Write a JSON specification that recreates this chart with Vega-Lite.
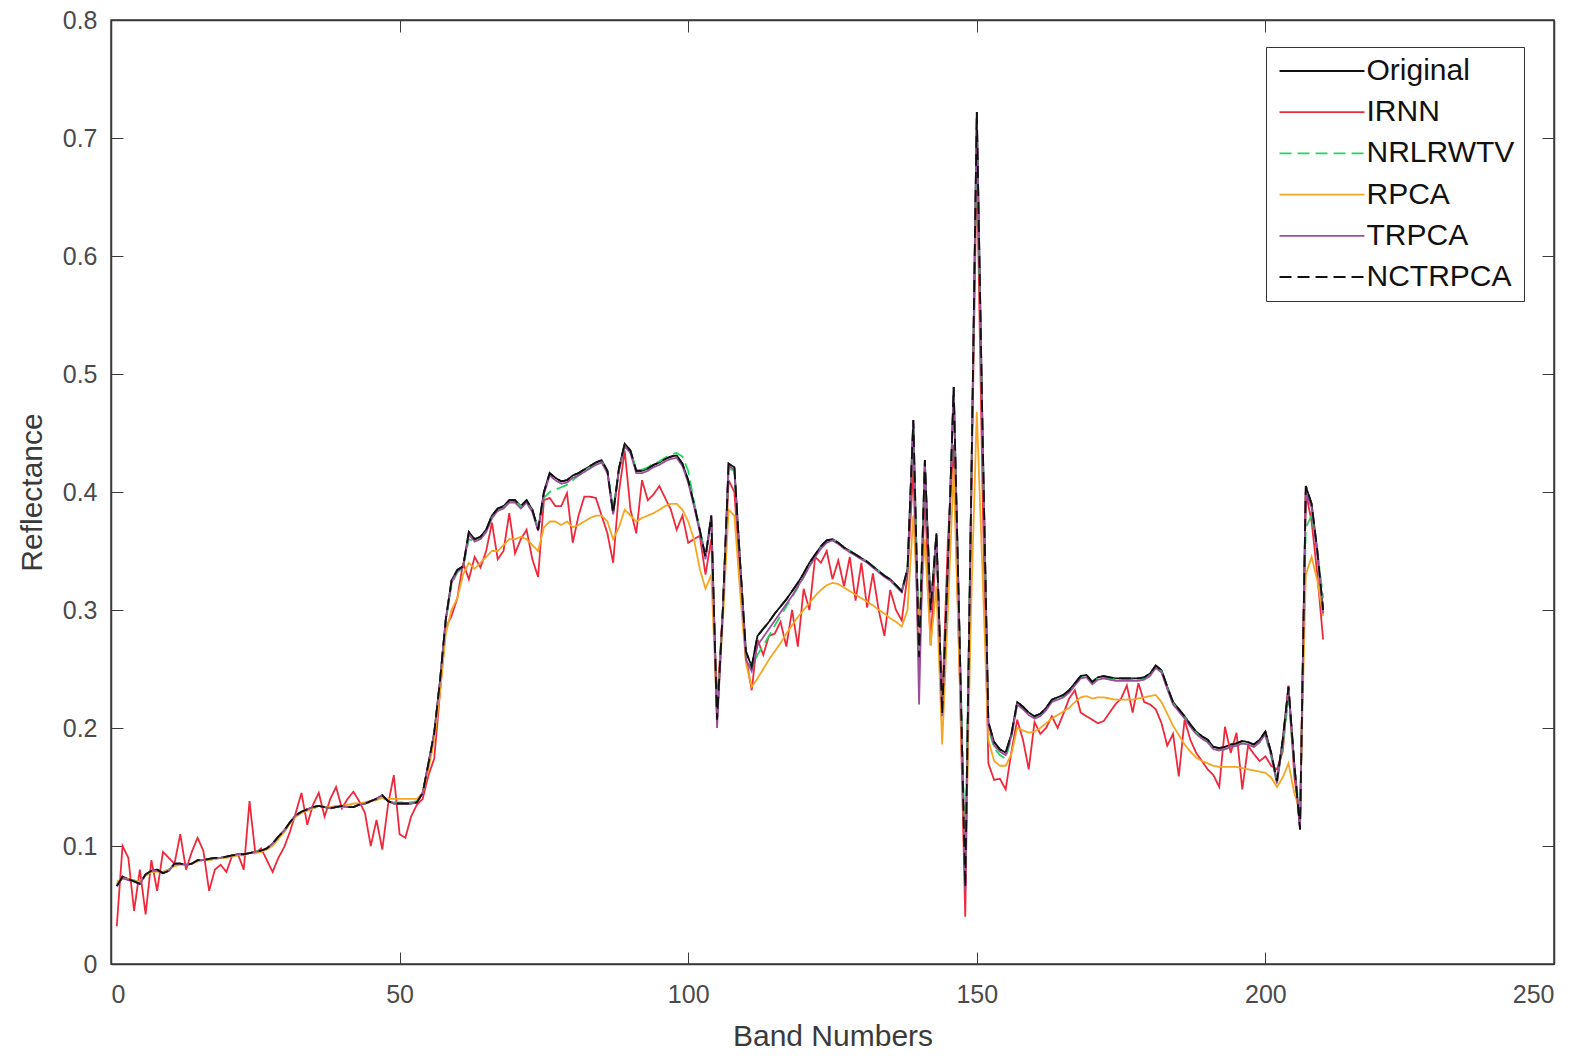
{
"$schema":"https://vega.github.io/schema/vega-lite/v6.json",
"width":1443,"height":944,
"autosize":{"type":"none"},
"padding":{"left":111,"top":20,"right":34,"bottom":100},
"background":"white",
"config":{"view":{"stroke":"#3a3a3a","strokeWidth":1.5},"font":"Liberation Sans"},
"datasets":{"d":[
{"b":1,"s":"Original","v":0.066},{"b":2,"s":"Original","v":0.074},{"b":3,"s":"Original","v":0.072},{"b":4,"s":"Original","v":0.070},{"b":5,"s":"Original","v":0.068},{"b":6,"s":"Original","v":0.076},{"b":7,"s":"Original","v":0.079},{"b":8,"s":"Original","v":0.080},{"b":9,"s":"Original","v":0.077},{"b":10,"s":"Original","v":0.079},
{"b":11,"s":"Original","v":0.085},{"b":12,"s":"Original","v":0.085},{"b":13,"s":"Original","v":0.084},{"b":14,"s":"Original","v":0.085},{"b":15,"s":"Original","v":0.088},{"b":16,"s":"Original","v":0.088},{"b":17,"s":"Original","v":0.089},{"b":18,"s":"Original","v":0.090},{"b":19,"s":"Original","v":0.090},{"b":20,"s":"Original","v":0.091},
{"b":21,"s":"Original","v":0.092},{"b":22,"s":"Original","v":0.093},{"b":23,"s":"Original","v":0.093},{"b":24,"s":"Original","v":0.094},{"b":25,"s":"Original","v":0.095},{"b":26,"s":"Original","v":0.096},{"b":27,"s":"Original","v":0.098},{"b":28,"s":"Original","v":0.102},{"b":29,"s":"Original","v":0.108},{"b":30,"s":"Original","v":0.113},
{"b":31,"s":"Original","v":0.120},{"b":32,"s":"Original","v":0.126},{"b":33,"s":"Original","v":0.129},{"b":34,"s":"Original","v":0.131},{"b":35,"s":"Original","v":0.133},{"b":36,"s":"Original","v":0.134},{"b":37,"s":"Original","v":0.133},{"b":38,"s":"Original","v":0.132},{"b":39,"s":"Original","v":0.133},{"b":40,"s":"Original","v":0.134},
{"b":41,"s":"Original","v":0.133},{"b":42,"s":"Original","v":0.133},{"b":43,"s":"Original","v":0.135},{"b":44,"s":"Original","v":0.136},{"b":45,"s":"Original","v":0.138},{"b":46,"s":"Original","v":0.140},{"b":47,"s":"Original","v":0.143},{"b":48,"s":"Original","v":0.138},{"b":49,"s":"Original","v":0.136},{"b":50,"s":"Original","v":0.136},
{"b":51,"s":"Original","v":0.136},{"b":52,"s":"Original","v":0.136},{"b":53,"s":"Original","v":0.137},{"b":54,"s":"Original","v":0.145},{"b":55,"s":"Original","v":0.170},{"b":56,"s":"Original","v":0.196},{"b":57,"s":"Original","v":0.240},{"b":58,"s":"Original","v":0.292},{"b":59,"s":"Original","v":0.325},{"b":60,"s":"Original","v":0.334},
{"b":61,"s":"Original","v":0.337},{"b":62,"s":"Original","v":0.366},{"b":63,"s":"Original","v":0.360},{"b":64,"s":"Original","v":0.362},{"b":65,"s":"Original","v":0.368},{"b":66,"s":"Original","v":0.380},{"b":67,"s":"Original","v":0.386},{"b":68,"s":"Original","v":0.388},{"b":69,"s":"Original","v":0.393},{"b":70,"s":"Original","v":0.393},
{"b":71,"s":"Original","v":0.388},{"b":72,"s":"Original","v":0.393},{"b":73,"s":"Original","v":0.385},{"b":74,"s":"Original","v":0.368},{"b":75,"s":"Original","v":0.400},{"b":76,"s":"Original","v":0.416},{"b":77,"s":"Original","v":0.412},{"b":78,"s":"Original","v":0.409},{"b":79,"s":"Original","v":0.410},{"b":80,"s":"Original","v":0.414},
{"b":81,"s":"Original","v":0.416},{"b":82,"s":"Original","v":0.419},{"b":83,"s":"Original","v":0.422},{"b":84,"s":"Original","v":0.425},{"b":85,"s":"Original","v":0.427},{"b":86,"s":"Original","v":0.418},{"b":87,"s":"Original","v":0.382},{"b":88,"s":"Original","v":0.420},{"b":89,"s":"Original","v":0.441},{"b":90,"s":"Original","v":0.435},
{"b":91,"s":"Original","v":0.418},{"b":92,"s":"Original","v":0.418},{"b":93,"s":"Original","v":0.420},{"b":94,"s":"Original","v":0.423},{"b":95,"s":"Original","v":0.425},{"b":96,"s":"Original","v":0.428},{"b":97,"s":"Original","v":0.430},{"b":98,"s":"Original","v":0.431},{"b":99,"s":"Original","v":0.424},{"b":100,"s":"Original","v":0.410},
{"b":101,"s":"Original","v":0.390},{"b":102,"s":"Original","v":0.368},{"b":103,"s":"Original","v":0.345},{"b":104,"s":"Original","v":0.380},{"b":105,"s":"Original","v":0.207},{"b":106,"s":"Original","v":0.300},{"b":107,"s":"Original","v":0.424},{"b":108,"s":"Original","v":0.421},{"b":109,"s":"Original","v":0.340},{"b":110,"s":"Original","v":0.265},
{"b":111,"s":"Original","v":0.252},{"b":112,"s":"Original","v":0.278},{"b":113,"s":"Original","v":0.284},{"b":114,"s":"Original","v":0.290},{"b":115,"s":"Original","v":0.297},{"b":116,"s":"Original","v":0.303},{"b":117,"s":"Original","v":0.309},{"b":118,"s":"Original","v":0.316},{"b":119,"s":"Original","v":0.323},{"b":120,"s":"Original","v":0.331},
{"b":121,"s":"Original","v":0.340},{"b":122,"s":"Original","v":0.347},{"b":123,"s":"Original","v":0.354},{"b":124,"s":"Original","v":0.359},{"b":125,"s":"Original","v":0.360},{"b":126,"s":"Original","v":0.357},{"b":127,"s":"Original","v":0.353},{"b":128,"s":"Original","v":0.350},{"b":129,"s":"Original","v":0.347},{"b":130,"s":"Original","v":0.344},
{"b":131,"s":"Original","v":0.341},{"b":132,"s":"Original","v":0.337},{"b":133,"s":"Original","v":0.333},{"b":134,"s":"Original","v":0.329},{"b":135,"s":"Original","v":0.326},{"b":136,"s":"Original","v":0.321},{"b":137,"s":"Original","v":0.316},{"b":138,"s":"Original","v":0.335},{"b":139,"s":"Original","v":0.461},{"b":140,"s":"Original","v":0.260},
{"b":141,"s":"Original","v":0.427},{"b":142,"s":"Original","v":0.300},{"b":143,"s":"Original","v":0.365},{"b":144,"s":"Original","v":0.212},{"b":145,"s":"Original","v":0.340},{"b":146,"s":"Original","v":0.489},{"b":147,"s":"Original","v":0.280},{"b":148,"s":"Original","v":0.065},{"b":149,"s":"Original","v":0.390},{"b":150,"s":"Original","v":0.722},
{"b":151,"s":"Original","v":0.450},{"b":152,"s":"Original","v":0.205},{"b":153,"s":"Original","v":0.188},{"b":154,"s":"Original","v":0.182},{"b":155,"s":"Original","v":0.179},{"b":156,"s":"Original","v":0.195},{"b":157,"s":"Original","v":0.222},{"b":158,"s":"Original","v":0.218},{"b":159,"s":"Original","v":0.213},{"b":160,"s":"Original","v":0.210},
{"b":161,"s":"Original","v":0.212},{"b":162,"s":"Original","v":0.217},{"b":163,"s":"Original","v":0.224},{"b":164,"s":"Original","v":0.226},{"b":165,"s":"Original","v":0.228},{"b":166,"s":"Original","v":0.232},{"b":167,"s":"Original","v":0.238},{"b":168,"s":"Original","v":0.244},{"b":169,"s":"Original","v":0.245},{"b":170,"s":"Original","v":0.239},
{"b":171,"s":"Original","v":0.243},{"b":172,"s":"Original","v":0.244},{"b":173,"s":"Original","v":0.243},{"b":174,"s":"Original","v":0.242},{"b":175,"s":"Original","v":0.242},{"b":176,"s":"Original","v":0.242},{"b":177,"s":"Original","v":0.242},{"b":178,"s":"Original","v":0.242},{"b":179,"s":"Original","v":0.243},{"b":180,"s":"Original","v":0.246},
{"b":181,"s":"Original","v":0.253},{"b":182,"s":"Original","v":0.249},{"b":183,"s":"Original","v":0.235},{"b":184,"s":"Original","v":0.222},{"b":185,"s":"Original","v":0.216},{"b":186,"s":"Original","v":0.210},{"b":187,"s":"Original","v":0.203},{"b":188,"s":"Original","v":0.197},{"b":189,"s":"Original","v":0.193},{"b":190,"s":"Original","v":0.190},
{"b":191,"s":"Original","v":0.184},{"b":192,"s":"Original","v":0.183},{"b":193,"s":"Original","v":0.184},{"b":194,"s":"Original","v":0.186},{"b":195,"s":"Original","v":0.187},{"b":196,"s":"Original","v":0.189},{"b":197,"s":"Original","v":0.188},{"b":198,"s":"Original","v":0.186},{"b":199,"s":"Original","v":0.190},{"b":200,"s":"Original","v":0.197},
{"b":201,"s":"Original","v":0.179},{"b":202,"s":"Original","v":0.155},{"b":203,"s":"Original","v":0.190},{"b":204,"s":"Original","v":0.235},{"b":205,"s":"Original","v":0.170},{"b":206,"s":"Original","v":0.114},{"b":207,"s":"Original","v":0.405},{"b":208,"s":"Original","v":0.390},{"b":209,"s":"Original","v":0.350},{"b":210,"s":"Original","v":0.300},
{"b":1,"s":"IRNN","v":0.032},{"b":2,"s":"IRNN","v":0.100},{"b":3,"s":"IRNN","v":0.090},{"b":4,"s":"IRNN","v":0.045},{"b":5,"s":"IRNN","v":0.080},{"b":6,"s":"IRNN","v":0.042},{"b":7,"s":"IRNN","v":0.088},{"b":8,"s":"IRNN","v":0.062},{"b":9,"s":"IRNN","v":0.095},{"b":10,"s":"IRNN","v":0.090},
{"b":11,"s":"IRNN","v":0.085},{"b":12,"s":"IRNN","v":0.110},{"b":13,"s":"IRNN","v":0.080},{"b":14,"s":"IRNN","v":0.095},{"b":15,"s":"IRNN","v":0.107},{"b":16,"s":"IRNN","v":0.096},{"b":17,"s":"IRNN","v":0.062},{"b":18,"s":"IRNN","v":0.080},{"b":19,"s":"IRNN","v":0.084},{"b":20,"s":"IRNN","v":0.078},
{"b":21,"s":"IRNN","v":0.092},{"b":22,"s":"IRNN","v":0.093},{"b":23,"s":"IRNN","v":0.080},{"b":24,"s":"IRNN","v":0.138},{"b":25,"s":"IRNN","v":0.094},{"b":26,"s":"IRNN","v":0.098},{"b":27,"s":"IRNN","v":0.088},{"b":28,"s":"IRNN","v":0.078},{"b":29,"s":"IRNN","v":0.090},{"b":30,"s":"IRNN","v":0.099},
{"b":31,"s":"IRNN","v":0.112},{"b":32,"s":"IRNN","v":0.128},{"b":33,"s":"IRNN","v":0.145},{"b":34,"s":"IRNN","v":0.118},{"b":35,"s":"IRNN","v":0.135},{"b":36,"s":"IRNN","v":0.145},{"b":37,"s":"IRNN","v":0.125},{"b":38,"s":"IRNN","v":0.140},{"b":39,"s":"IRNN","v":0.150},{"b":40,"s":"IRNN","v":0.132},
{"b":41,"s":"IRNN","v":0.140},{"b":42,"s":"IRNN","v":0.146},{"b":43,"s":"IRNN","v":0.138},{"b":44,"s":"IRNN","v":0.128},{"b":45,"s":"IRNN","v":0.100},{"b":46,"s":"IRNN","v":0.122},{"b":47,"s":"IRNN","v":0.097},{"b":48,"s":"IRNN","v":0.135},{"b":49,"s":"IRNN","v":0.160},{"b":50,"s":"IRNN","v":0.110},
{"b":51,"s":"IRNN","v":0.107},{"b":52,"s":"IRNN","v":0.125},{"b":53,"s":"IRNN","v":0.135},{"b":54,"s":"IRNN","v":0.140},{"b":55,"s":"IRNN","v":0.160},{"b":56,"s":"IRNN","v":0.174},{"b":57,"s":"IRNN","v":0.230},{"b":58,"s":"IRNN","v":0.285},{"b":59,"s":"IRNN","v":0.295},{"b":60,"s":"IRNN","v":0.310},
{"b":61,"s":"IRNN","v":0.340},{"b":62,"s":"IRNN","v":0.326},{"b":63,"s":"IRNN","v":0.345},{"b":64,"s":"IRNN","v":0.336},{"b":65,"s":"IRNN","v":0.350},{"b":66,"s":"IRNN","v":0.374},{"b":67,"s":"IRNN","v":0.343},{"b":68,"s":"IRNN","v":0.350},{"b":69,"s":"IRNN","v":0.382},{"b":70,"s":"IRNN","v":0.348},
{"b":71,"s":"IRNN","v":0.360},{"b":72,"s":"IRNN","v":0.368},{"b":73,"s":"IRNN","v":0.343},{"b":74,"s":"IRNN","v":0.328},{"b":75,"s":"IRNN","v":0.393},{"b":76,"s":"IRNN","v":0.395},{"b":77,"s":"IRNN","v":0.388},{"b":78,"s":"IRNN","v":0.388},{"b":79,"s":"IRNN","v":0.399},{"b":80,"s":"IRNN","v":0.357},
{"b":81,"s":"IRNN","v":0.380},{"b":82,"s":"IRNN","v":0.396},{"b":83,"s":"IRNN","v":0.396},{"b":84,"s":"IRNN","v":0.395},{"b":85,"s":"IRNN","v":0.380},{"b":86,"s":"IRNN","v":0.365},{"b":87,"s":"IRNN","v":0.340},{"b":88,"s":"IRNN","v":0.400},{"b":89,"s":"IRNN","v":0.435},{"b":90,"s":"IRNN","v":0.385},
{"b":91,"s":"IRNN","v":0.365},{"b":92,"s":"IRNN","v":0.410},{"b":93,"s":"IRNN","v":0.393},{"b":94,"s":"IRNN","v":0.398},{"b":95,"s":"IRNN","v":0.405},{"b":96,"s":"IRNN","v":0.395},{"b":97,"s":"IRNN","v":0.385},{"b":98,"s":"IRNN","v":0.368},{"b":99,"s":"IRNN","v":0.380},{"b":100,"s":"IRNN","v":0.357},
{"b":101,"s":"IRNN","v":0.360},{"b":102,"s":"IRNN","v":0.363},{"b":103,"s":"IRNN","v":0.330},{"b":104,"s":"IRNN","v":0.360},{"b":105,"s":"IRNN","v":0.220},{"b":106,"s":"IRNN","v":0.300},{"b":107,"s":"IRNN","v":0.410},{"b":108,"s":"IRNN","v":0.400},{"b":109,"s":"IRNN","v":0.330},{"b":110,"s":"IRNN","v":0.260},
{"b":111,"s":"IRNN","v":0.232},{"b":112,"s":"IRNN","v":0.275},{"b":113,"s":"IRNN","v":0.262},{"b":114,"s":"IRNN","v":0.278},{"b":115,"s":"IRNN","v":0.280},{"b":116,"s":"IRNN","v":0.290},{"b":117,"s":"IRNN","v":0.269},{"b":118,"s":"IRNN","v":0.300},{"b":119,"s":"IRNN","v":0.269},{"b":120,"s":"IRNN","v":0.318},
{"b":121,"s":"IRNN","v":0.300},{"b":122,"s":"IRNN","v":0.345},{"b":123,"s":"IRNN","v":0.340},{"b":124,"s":"IRNN","v":0.350},{"b":125,"s":"IRNN","v":0.326},{"b":126,"s":"IRNN","v":0.342},{"b":127,"s":"IRNN","v":0.320},{"b":128,"s":"IRNN","v":0.345},{"b":129,"s":"IRNN","v":0.308},{"b":130,"s":"IRNN","v":0.340},
{"b":131,"s":"IRNN","v":0.302},{"b":132,"s":"IRNN","v":0.331},{"b":133,"s":"IRNN","v":0.300},{"b":134,"s":"IRNN","v":0.278},{"b":135,"s":"IRNN","v":0.317},{"b":136,"s":"IRNN","v":0.300},{"b":137,"s":"IRNN","v":0.291},{"b":138,"s":"IRNN","v":0.330},{"b":139,"s":"IRNN","v":0.420},{"b":140,"s":"IRNN","v":0.250},
{"b":141,"s":"IRNN","v":0.400},{"b":142,"s":"IRNN","v":0.270},{"b":143,"s":"IRNN","v":0.360},{"b":144,"s":"IRNN","v":0.220},{"b":145,"s":"IRNN","v":0.360},{"b":146,"s":"IRNN","v":0.440},{"b":147,"s":"IRNN","v":0.250},{"b":148,"s":"IRNN","v":0.040},{"b":149,"s":"IRNN","v":0.380},{"b":150,"s":"IRNN","v":0.680},
{"b":151,"s":"IRNN","v":0.400},{"b":152,"s":"IRNN","v":0.170},{"b":153,"s":"IRNN","v":0.156},{"b":154,"s":"IRNN","v":0.157},{"b":155,"s":"IRNN","v":0.148},{"b":156,"s":"IRNN","v":0.180},{"b":157,"s":"IRNN","v":0.207},{"b":158,"s":"IRNN","v":0.190},{"b":159,"s":"IRNN","v":0.165},{"b":160,"s":"IRNN","v":0.205},
{"b":161,"s":"IRNN","v":0.195},{"b":162,"s":"IRNN","v":0.200},{"b":163,"s":"IRNN","v":0.210},{"b":164,"s":"IRNN","v":0.200},{"b":165,"s":"IRNN","v":0.212},{"b":166,"s":"IRNN","v":0.225},{"b":167,"s":"IRNN","v":0.232},{"b":168,"s":"IRNN","v":0.213},{"b":169,"s":"IRNN","v":0.210},{"b":170,"s":"IRNN","v":0.207},
{"b":171,"s":"IRNN","v":0.204},{"b":172,"s":"IRNN","v":0.206},{"b":173,"s":"IRNN","v":0.213},{"b":174,"s":"IRNN","v":0.220},{"b":175,"s":"IRNN","v":0.225},{"b":176,"s":"IRNN","v":0.236},{"b":177,"s":"IRNN","v":0.213},{"b":178,"s":"IRNN","v":0.238},{"b":179,"s":"IRNN","v":0.222},{"b":180,"s":"IRNN","v":0.220},
{"b":181,"s":"IRNN","v":0.216},{"b":182,"s":"IRNN","v":0.204},{"b":183,"s":"IRNN","v":0.185},{"b":184,"s":"IRNN","v":0.195},{"b":185,"s":"IRNN","v":0.159},{"b":186,"s":"IRNN","v":0.207},{"b":187,"s":"IRNN","v":0.190},{"b":188,"s":"IRNN","v":0.179},{"b":189,"s":"IRNN","v":0.172},{"b":190,"s":"IRNN","v":0.165},
{"b":191,"s":"IRNN","v":0.160},{"b":192,"s":"IRNN","v":0.150},{"b":193,"s":"IRNN","v":0.201},{"b":194,"s":"IRNN","v":0.179},{"b":195,"s":"IRNN","v":0.196},{"b":196,"s":"IRNN","v":0.148},{"b":197,"s":"IRNN","v":0.185},{"b":198,"s":"IRNN","v":0.178},{"b":199,"s":"IRNN","v":0.172},{"b":200,"s":"IRNN","v":0.176},
{"b":201,"s":"IRNN","v":0.168},{"b":202,"s":"IRNN","v":0.165},{"b":203,"s":"IRNN","v":0.180},{"b":204,"s":"IRNN","v":0.236},{"b":205,"s":"IRNN","v":0.160},{"b":206,"s":"IRNN","v":0.120},{"b":207,"s":"IRNN","v":0.400},{"b":208,"s":"IRNN","v":0.375},{"b":209,"s":"IRNN","v":0.330},{"b":210,"s":"IRNN","v":0.275},
{"b":1,"s":"NRLRWTV","v":0.068},{"b":2,"s":"NRLRWTV","v":0.073},{"b":3,"s":"NRLRWTV","v":0.072},{"b":4,"s":"NRLRWTV","v":0.071},{"b":5,"s":"NRLRWTV","v":0.069},{"b":6,"s":"NRLRWTV","v":0.075},{"b":7,"s":"NRLRWTV","v":0.078},{"b":8,"s":"NRLRWTV","v":0.079},{"b":9,"s":"NRLRWTV","v":0.078},{"b":10,"s":"NRLRWTV","v":0.080},
{"b":11,"s":"NRLRWTV","v":0.084},{"b":12,"s":"NRLRWTV","v":0.085},{"b":13,"s":"NRLRWTV","v":0.084},{"b":14,"s":"NRLRWTV","v":0.085},{"b":15,"s":"NRLRWTV","v":0.087},{"b":16,"s":"NRLRWTV","v":0.088},{"b":17,"s":"NRLRWTV","v":0.089},{"b":18,"s":"NRLRWTV","v":0.089},{"b":19,"s":"NRLRWTV","v":0.090},{"b":20,"s":"NRLRWTV","v":0.091},
{"b":21,"s":"NRLRWTV","v":0.092},{"b":22,"s":"NRLRWTV","v":0.092},{"b":23,"s":"NRLRWTV","v":0.093},{"b":24,"s":"NRLRWTV","v":0.094},{"b":25,"s":"NRLRWTV","v":0.095},{"b":26,"s":"NRLRWTV","v":0.096},{"b":27,"s":"NRLRWTV","v":0.098},{"b":28,"s":"NRLRWTV","v":0.101},{"b":29,"s":"NRLRWTV","v":0.107},{"b":30,"s":"NRLRWTV","v":0.112},
{"b":31,"s":"NRLRWTV","v":0.119},{"b":32,"s":"NRLRWTV","v":0.125},{"b":33,"s":"NRLRWTV","v":0.128},{"b":34,"s":"NRLRWTV","v":0.130},{"b":35,"s":"NRLRWTV","v":0.132},{"b":36,"s":"NRLRWTV","v":0.133},{"b":37,"s":"NRLRWTV","v":0.133},{"b":38,"s":"NRLRWTV","v":0.132},{"b":39,"s":"NRLRWTV","v":0.133},{"b":40,"s":"NRLRWTV","v":0.133},
{"b":41,"s":"NRLRWTV","v":0.133},{"b":42,"s":"NRLRWTV","v":0.134},{"b":43,"s":"NRLRWTV","v":0.135},{"b":44,"s":"NRLRWTV","v":0.136},{"b":45,"s":"NRLRWTV","v":0.137},{"b":46,"s":"NRLRWTV","v":0.139},{"b":47,"s":"NRLRWTV","v":0.141},{"b":48,"s":"NRLRWTV","v":0.138},{"b":49,"s":"NRLRWTV","v":0.137},{"b":50,"s":"NRLRWTV","v":0.137},
{"b":51,"s":"NRLRWTV","v":0.137},{"b":52,"s":"NRLRWTV","v":0.137},{"b":53,"s":"NRLRWTV","v":0.138},{"b":54,"s":"NRLRWTV","v":0.145},{"b":55,"s":"NRLRWTV","v":0.168},{"b":56,"s":"NRLRWTV","v":0.195},{"b":57,"s":"NRLRWTV","v":0.238},{"b":58,"s":"NRLRWTV","v":0.290},{"b":59,"s":"NRLRWTV","v":0.322},{"b":60,"s":"NRLRWTV","v":0.332},
{"b":61,"s":"NRLRWTV","v":0.336},{"b":62,"s":"NRLRWTV","v":0.360},{"b":63,"s":"NRLRWTV","v":0.358},{"b":64,"s":"NRLRWTV","v":0.361},{"b":65,"s":"NRLRWTV","v":0.366},{"b":66,"s":"NRLRWTV","v":0.378},{"b":67,"s":"NRLRWTV","v":0.384},{"b":68,"s":"NRLRWTV","v":0.387},{"b":69,"s":"NRLRWTV","v":0.391},{"b":70,"s":"NRLRWTV","v":0.392},
{"b":71,"s":"NRLRWTV","v":0.388},{"b":72,"s":"NRLRWTV","v":0.391},{"b":73,"s":"NRLRWTV","v":0.384},{"b":74,"s":"NRLRWTV","v":0.370},{"b":75,"s":"NRLRWTV","v":0.395},{"b":76,"s":"NRLRWTV","v":0.400},{"b":77,"s":"NRLRWTV","v":0.402},{"b":78,"s":"NRLRWTV","v":0.404},{"b":79,"s":"NRLRWTV","v":0.406},{"b":80,"s":"NRLRWTV","v":0.410},
{"b":81,"s":"NRLRWTV","v":0.414},{"b":82,"s":"NRLRWTV","v":0.418},{"b":83,"s":"NRLRWTV","v":0.421},{"b":84,"s":"NRLRWTV","v":0.424},{"b":85,"s":"NRLRWTV","v":0.426},{"b":86,"s":"NRLRWTV","v":0.418},{"b":87,"s":"NRLRWTV","v":0.385},{"b":88,"s":"NRLRWTV","v":0.418},{"b":89,"s":"NRLRWTV","v":0.438},{"b":90,"s":"NRLRWTV","v":0.434},
{"b":91,"s":"NRLRWTV","v":0.419},{"b":92,"s":"NRLRWTV","v":0.419},{"b":93,"s":"NRLRWTV","v":0.421},{"b":94,"s":"NRLRWTV","v":0.424},{"b":95,"s":"NRLRWTV","v":0.426},{"b":96,"s":"NRLRWTV","v":0.429},{"b":97,"s":"NRLRWTV","v":0.432},{"b":98,"s":"NRLRWTV","v":0.433},{"b":99,"s":"NRLRWTV","v":0.430},{"b":100,"s":"NRLRWTV","v":0.418},
{"b":101,"s":"NRLRWTV","v":0.392},{"b":102,"s":"NRLRWTV","v":0.368},{"b":103,"s":"NRLRWTV","v":0.345},{"b":104,"s":"NRLRWTV","v":0.375},{"b":105,"s":"NRLRWTV","v":0.210},{"b":106,"s":"NRLRWTV","v":0.300},{"b":107,"s":"NRLRWTV","v":0.420},{"b":108,"s":"NRLRWTV","v":0.418},{"b":109,"s":"NRLRWTV","v":0.340},{"b":110,"s":"NRLRWTV","v":0.262},
{"b":111,"s":"NRLRWTV","v":0.250},{"b":112,"s":"NRLRWTV","v":0.262},{"b":113,"s":"NRLRWTV","v":0.270},{"b":114,"s":"NRLRWTV","v":0.278},{"b":115,"s":"NRLRWTV","v":0.287},{"b":116,"s":"NRLRWTV","v":0.295},{"b":117,"s":"NRLRWTV","v":0.303},{"b":118,"s":"NRLRWTV","v":0.311},{"b":119,"s":"NRLRWTV","v":0.319},{"b":120,"s":"NRLRWTV","v":0.328},
{"b":121,"s":"NRLRWTV","v":0.337},{"b":122,"s":"NRLRWTV","v":0.345},{"b":123,"s":"NRLRWTV","v":0.353},{"b":124,"s":"NRLRWTV","v":0.358},{"b":125,"s":"NRLRWTV","v":0.360},{"b":126,"s":"NRLRWTV","v":0.357},{"b":127,"s":"NRLRWTV","v":0.353},{"b":128,"s":"NRLRWTV","v":0.350},{"b":129,"s":"NRLRWTV","v":0.347},{"b":130,"s":"NRLRWTV","v":0.344},
{"b":131,"s":"NRLRWTV","v":0.341},{"b":132,"s":"NRLRWTV","v":0.337},{"b":133,"s":"NRLRWTV","v":0.333},{"b":134,"s":"NRLRWTV","v":0.329},{"b":135,"s":"NRLRWTV","v":0.325},{"b":136,"s":"NRLRWTV","v":0.320},{"b":137,"s":"NRLRWTV","v":0.315},{"b":138,"s":"NRLRWTV","v":0.333},{"b":139,"s":"NRLRWTV","v":0.455},{"b":140,"s":"NRLRWTV","v":0.260},
{"b":141,"s":"NRLRWTV","v":0.420},{"b":142,"s":"NRLRWTV","v":0.300},{"b":143,"s":"NRLRWTV","v":0.362},{"b":144,"s":"NRLRWTV","v":0.212},{"b":145,"s":"NRLRWTV","v":0.338},{"b":146,"s":"NRLRWTV","v":0.485},{"b":147,"s":"NRLRWTV","v":0.280},{"b":148,"s":"NRLRWTV","v":0.090},{"b":149,"s":"NRLRWTV","v":0.390},{"b":150,"s":"NRLRWTV","v":0.700},
{"b":151,"s":"NRLRWTV","v":0.445},{"b":152,"s":"NRLRWTV","v":0.200},{"b":153,"s":"NRLRWTV","v":0.183},{"b":154,"s":"NRLRWTV","v":0.177},{"b":155,"s":"NRLRWTV","v":0.174},{"b":156,"s":"NRLRWTV","v":0.192},{"b":157,"s":"NRLRWTV","v":0.220},{"b":158,"s":"NRLRWTV","v":0.216},{"b":159,"s":"NRLRWTV","v":0.212},{"b":160,"s":"NRLRWTV","v":0.209},
{"b":161,"s":"NRLRWTV","v":0.211},{"b":162,"s":"NRLRWTV","v":0.216},{"b":163,"s":"NRLRWTV","v":0.223},{"b":164,"s":"NRLRWTV","v":0.225},{"b":165,"s":"NRLRWTV","v":0.227},{"b":166,"s":"NRLRWTV","v":0.231},{"b":167,"s":"NRLRWTV","v":0.237},{"b":168,"s":"NRLRWTV","v":0.243},{"b":169,"s":"NRLRWTV","v":0.244},{"b":170,"s":"NRLRWTV","v":0.239},
{"b":171,"s":"NRLRWTV","v":0.242},{"b":172,"s":"NRLRWTV","v":0.243},{"b":173,"s":"NRLRWTV","v":0.242},{"b":174,"s":"NRLRWTV","v":0.241},{"b":175,"s":"NRLRWTV","v":0.241},{"b":176,"s":"NRLRWTV","v":0.241},{"b":177,"s":"NRLRWTV","v":0.241},{"b":178,"s":"NRLRWTV","v":0.241},{"b":179,"s":"NRLRWTV","v":0.242},{"b":180,"s":"NRLRWTV","v":0.245},
{"b":181,"s":"NRLRWTV","v":0.251},{"b":182,"s":"NRLRWTV","v":0.248},{"b":183,"s":"NRLRWTV","v":0.234},{"b":184,"s":"NRLRWTV","v":0.221},{"b":185,"s":"NRLRWTV","v":0.215},{"b":186,"s":"NRLRWTV","v":0.209},{"b":187,"s":"NRLRWTV","v":0.202},{"b":188,"s":"NRLRWTV","v":0.196},{"b":189,"s":"NRLRWTV","v":0.192},{"b":190,"s":"NRLRWTV","v":0.188},
{"b":191,"s":"NRLRWTV","v":0.182},{"b":192,"s":"NRLRWTV","v":0.181},{"b":193,"s":"NRLRWTV","v":0.182},{"b":194,"s":"NRLRWTV","v":0.184},{"b":195,"s":"NRLRWTV","v":0.185},{"b":196,"s":"NRLRWTV","v":0.187},{"b":197,"s":"NRLRWTV","v":0.186},{"b":198,"s":"NRLRWTV","v":0.184},{"b":199,"s":"NRLRWTV","v":0.188},{"b":200,"s":"NRLRWTV","v":0.193},
{"b":201,"s":"NRLRWTV","v":0.176},{"b":202,"s":"NRLRWTV","v":0.155},{"b":203,"s":"NRLRWTV","v":0.185},{"b":204,"s":"NRLRWTV","v":0.225},{"b":205,"s":"NRLRWTV","v":0.168},{"b":206,"s":"NRLRWTV","v":0.125},{"b":207,"s":"NRLRWTV","v":0.370},{"b":208,"s":"NRLRWTV","v":0.380},{"b":209,"s":"NRLRWTV","v":0.350},{"b":210,"s":"NRLRWTV","v":0.310},
{"b":1,"s":"RPCA","v":0.070},{"b":2,"s":"RPCA","v":0.072},{"b":3,"s":"RPCA","v":0.072},{"b":4,"s":"RPCA","v":0.070},{"b":5,"s":"RPCA","v":0.070},{"b":6,"s":"RPCA","v":0.075},{"b":7,"s":"RPCA","v":0.078},{"b":8,"s":"RPCA","v":0.078},{"b":9,"s":"RPCA","v":0.078},{"b":10,"s":"RPCA","v":0.080},
{"b":11,"s":"RPCA","v":0.083},{"b":12,"s":"RPCA","v":0.084},{"b":13,"s":"RPCA","v":0.084},{"b":14,"s":"RPCA","v":0.085},{"b":15,"s":"RPCA","v":0.087},{"b":16,"s":"RPCA","v":0.088},{"b":17,"s":"RPCA","v":0.088},{"b":18,"s":"RPCA","v":0.089},{"b":19,"s":"RPCA","v":0.090},{"b":20,"s":"RPCA","v":0.090},
{"b":21,"s":"RPCA","v":0.091},{"b":22,"s":"RPCA","v":0.092},{"b":23,"s":"RPCA","v":0.092},{"b":24,"s":"RPCA","v":0.094},{"b":25,"s":"RPCA","v":0.094},{"b":26,"s":"RPCA","v":0.095},{"b":27,"s":"RPCA","v":0.097},{"b":28,"s":"RPCA","v":0.100},{"b":29,"s":"RPCA","v":0.106},{"b":30,"s":"RPCA","v":0.112},
{"b":31,"s":"RPCA","v":0.119},{"b":32,"s":"RPCA","v":0.125},{"b":33,"s":"RPCA","v":0.128},{"b":34,"s":"RPCA","v":0.130},{"b":35,"s":"RPCA","v":0.132},{"b":36,"s":"RPCA","v":0.134},{"b":37,"s":"RPCA","v":0.133},{"b":38,"s":"RPCA","v":0.133},{"b":39,"s":"RPCA","v":0.134},{"b":40,"s":"RPCA","v":0.134},
{"b":41,"s":"RPCA","v":0.135},{"b":42,"s":"RPCA","v":0.136},{"b":43,"s":"RPCA","v":0.136},{"b":44,"s":"RPCA","v":0.137},{"b":45,"s":"RPCA","v":0.138},{"b":46,"s":"RPCA","v":0.139},{"b":47,"s":"RPCA","v":0.141},{"b":48,"s":"RPCA","v":0.140},{"b":49,"s":"RPCA","v":0.140},{"b":50,"s":"RPCA","v":0.140},
{"b":51,"s":"RPCA","v":0.140},{"b":52,"s":"RPCA","v":0.140},{"b":53,"s":"RPCA","v":0.140},{"b":54,"s":"RPCA","v":0.145},{"b":55,"s":"RPCA","v":0.165},{"b":56,"s":"RPCA","v":0.190},{"b":57,"s":"RPCA","v":0.230},{"b":58,"s":"RPCA","v":0.280},{"b":59,"s":"RPCA","v":0.300},{"b":60,"s":"RPCA","v":0.310},
{"b":61,"s":"RPCA","v":0.330},{"b":62,"s":"RPCA","v":0.340},{"b":63,"s":"RPCA","v":0.335},{"b":64,"s":"RPCA","v":0.340},{"b":65,"s":"RPCA","v":0.345},{"b":66,"s":"RPCA","v":0.350},{"b":67,"s":"RPCA","v":0.350},{"b":68,"s":"RPCA","v":0.355},{"b":69,"s":"RPCA","v":0.360},{"b":70,"s":"RPCA","v":0.360},
{"b":71,"s":"RPCA","v":0.362},{"b":72,"s":"RPCA","v":0.360},{"b":73,"s":"RPCA","v":0.355},{"b":74,"s":"RPCA","v":0.350},{"b":75,"s":"RPCA","v":0.370},{"b":76,"s":"RPCA","v":0.375},{"b":77,"s":"RPCA","v":0.375},{"b":78,"s":"RPCA","v":0.372},{"b":79,"s":"RPCA","v":0.375},{"b":80,"s":"RPCA","v":0.370},
{"b":81,"s":"RPCA","v":0.372},{"b":82,"s":"RPCA","v":0.375},{"b":83,"s":"RPCA","v":0.378},{"b":84,"s":"RPCA","v":0.380},{"b":85,"s":"RPCA","v":0.380},{"b":86,"s":"RPCA","v":0.375},{"b":87,"s":"RPCA","v":0.360},{"b":88,"s":"RPCA","v":0.370},{"b":89,"s":"RPCA","v":0.385},{"b":90,"s":"RPCA","v":0.380},
{"b":91,"s":"RPCA","v":0.375},{"b":92,"s":"RPCA","v":0.378},{"b":93,"s":"RPCA","v":0.380},{"b":94,"s":"RPCA","v":0.382},{"b":95,"s":"RPCA","v":0.385},{"b":96,"s":"RPCA","v":0.388},{"b":97,"s":"RPCA","v":0.390},{"b":98,"s":"RPCA","v":0.390},{"b":99,"s":"RPCA","v":0.385},{"b":100,"s":"RPCA","v":0.375},
{"b":101,"s":"RPCA","v":0.360},{"b":102,"s":"RPCA","v":0.335},{"b":103,"s":"RPCA","v":0.318},{"b":104,"s":"RPCA","v":0.330},{"b":105,"s":"RPCA","v":0.210},{"b":106,"s":"RPCA","v":0.290},{"b":107,"s":"RPCA","v":0.385},{"b":108,"s":"RPCA","v":0.380},{"b":109,"s":"RPCA","v":0.315},{"b":110,"s":"RPCA","v":0.255},
{"b":111,"s":"RPCA","v":0.235},{"b":112,"s":"RPCA","v":0.242},{"b":113,"s":"RPCA","v":0.250},{"b":114,"s":"RPCA","v":0.258},{"b":115,"s":"RPCA","v":0.265},{"b":116,"s":"RPCA","v":0.272},{"b":117,"s":"RPCA","v":0.280},{"b":118,"s":"RPCA","v":0.287},{"b":119,"s":"RPCA","v":0.294},{"b":120,"s":"RPCA","v":0.300},
{"b":121,"s":"RPCA","v":0.306},{"b":122,"s":"RPCA","v":0.312},{"b":123,"s":"RPCA","v":0.317},{"b":124,"s":"RPCA","v":0.321},{"b":125,"s":"RPCA","v":0.323},{"b":126,"s":"RPCA","v":0.322},{"b":127,"s":"RPCA","v":0.319},{"b":128,"s":"RPCA","v":0.316},{"b":129,"s":"RPCA","v":0.313},{"b":130,"s":"RPCA","v":0.310},
{"b":131,"s":"RPCA","v":0.307},{"b":132,"s":"RPCA","v":0.304},{"b":133,"s":"RPCA","v":0.300},{"b":134,"s":"RPCA","v":0.297},{"b":135,"s":"RPCA","v":0.293},{"b":136,"s":"RPCA","v":0.290},{"b":137,"s":"RPCA","v":0.286},{"b":138,"s":"RPCA","v":0.300},{"b":139,"s":"RPCA","v":0.380},{"b":140,"s":"RPCA","v":0.280},
{"b":141,"s":"RPCA","v":0.360},{"b":142,"s":"RPCA","v":0.270},{"b":143,"s":"RPCA","v":0.320},{"b":144,"s":"RPCA","v":0.186},{"b":145,"s":"RPCA","v":0.300},{"b":146,"s":"RPCA","v":0.420},{"b":147,"s":"RPCA","v":0.250},{"b":148,"s":"RPCA","v":0.075},{"b":149,"s":"RPCA","v":0.300},{"b":150,"s":"RPCA","v":0.468},
{"b":151,"s":"RPCA","v":0.330},{"b":152,"s":"RPCA","v":0.190},{"b":153,"s":"RPCA","v":0.172},{"b":154,"s":"RPCA","v":0.168},{"b":155,"s":"RPCA","v":0.168},{"b":156,"s":"RPCA","v":0.178},{"b":157,"s":"RPCA","v":0.200},{"b":158,"s":"RPCA","v":0.198},{"b":159,"s":"RPCA","v":0.196},{"b":160,"s":"RPCA","v":0.197},
{"b":161,"s":"RPCA","v":0.200},{"b":162,"s":"RPCA","v":0.204},{"b":163,"s":"RPCA","v":0.208},{"b":164,"s":"RPCA","v":0.211},{"b":165,"s":"RPCA","v":0.214},{"b":166,"s":"RPCA","v":0.217},{"b":167,"s":"RPCA","v":0.222},{"b":168,"s":"RPCA","v":0.226},{"b":169,"s":"RPCA","v":0.227},{"b":170,"s":"RPCA","v":0.225},
{"b":171,"s":"RPCA","v":0.226},{"b":172,"s":"RPCA","v":0.226},{"b":173,"s":"RPCA","v":0.225},{"b":174,"s":"RPCA","v":0.224},{"b":175,"s":"RPCA","v":0.224},{"b":176,"s":"RPCA","v":0.224},{"b":177,"s":"RPCA","v":0.224},{"b":178,"s":"RPCA","v":0.225},{"b":179,"s":"RPCA","v":0.226},{"b":180,"s":"RPCA","v":0.227},
{"b":181,"s":"RPCA","v":0.228},{"b":182,"s":"RPCA","v":0.222},{"b":183,"s":"RPCA","v":0.212},{"b":184,"s":"RPCA","v":0.202},{"b":185,"s":"RPCA","v":0.194},{"b":186,"s":"RPCA","v":0.186},{"b":187,"s":"RPCA","v":0.180},{"b":188,"s":"RPCA","v":0.175},{"b":189,"s":"RPCA","v":0.172},{"b":190,"s":"RPCA","v":0.170},
{"b":191,"s":"RPCA","v":0.168},{"b":192,"s":"RPCA","v":0.167},{"b":193,"s":"RPCA","v":0.167},{"b":194,"s":"RPCA","v":0.167},{"b":195,"s":"RPCA","v":0.167},{"b":196,"s":"RPCA","v":0.166},{"b":197,"s":"RPCA","v":0.165},{"b":198,"s":"RPCA","v":0.164},{"b":199,"s":"RPCA","v":0.163},{"b":200,"s":"RPCA","v":0.162},
{"b":201,"s":"RPCA","v":0.158},{"b":202,"s":"RPCA","v":0.150},{"b":203,"s":"RPCA","v":0.158},{"b":204,"s":"RPCA","v":0.170},{"b":205,"s":"RPCA","v":0.145},{"b":206,"s":"RPCA","v":0.130},{"b":207,"s":"RPCA","v":0.330},{"b":208,"s":"RPCA","v":0.345},{"b":209,"s":"RPCA","v":0.325},{"b":210,"s":"RPCA","v":0.295},
{"b":1,"s":"TRPCA","v":0.066},{"b":2,"s":"TRPCA","v":0.073},{"b":3,"s":"TRPCA","v":0.071},{"b":4,"s":"TRPCA","v":0.070},{"b":5,"s":"TRPCA","v":0.068},{"b":6,"s":"TRPCA","v":0.076},{"b":7,"s":"TRPCA","v":0.079},{"b":8,"s":"TRPCA","v":0.079},{"b":9,"s":"TRPCA","v":0.077},{"b":10,"s":"TRPCA","v":0.079},
{"b":11,"s":"TRPCA","v":0.085},{"b":12,"s":"TRPCA","v":0.085},{"b":13,"s":"TRPCA","v":0.084},{"b":14,"s":"TRPCA","v":0.085},{"b":15,"s":"TRPCA","v":0.088},{"b":16,"s":"TRPCA","v":0.088},{"b":17,"s":"TRPCA","v":0.089},{"b":18,"s":"TRPCA","v":0.090},{"b":19,"s":"TRPCA","v":0.090},{"b":20,"s":"TRPCA","v":0.091},
{"b":21,"s":"TRPCA","v":0.092},{"b":22,"s":"TRPCA","v":0.093},{"b":23,"s":"TRPCA","v":0.093},{"b":24,"s":"TRPCA","v":0.094},{"b":25,"s":"TRPCA","v":0.095},{"b":26,"s":"TRPCA","v":0.096},{"b":27,"s":"TRPCA","v":0.098},{"b":28,"s":"TRPCA","v":0.102},{"b":29,"s":"TRPCA","v":0.108},{"b":30,"s":"TRPCA","v":0.113},
{"b":31,"s":"TRPCA","v":0.120},{"b":32,"s":"TRPCA","v":0.126},{"b":33,"s":"TRPCA","v":0.129},{"b":34,"s":"TRPCA","v":0.131},{"b":35,"s":"TRPCA","v":0.133},{"b":36,"s":"TRPCA","v":0.134},{"b":37,"s":"TRPCA","v":0.133},{"b":38,"s":"TRPCA","v":0.132},{"b":39,"s":"TRPCA","v":0.133},{"b":40,"s":"TRPCA","v":0.134},
{"b":41,"s":"TRPCA","v":0.133},{"b":42,"s":"TRPCA","v":0.133},{"b":43,"s":"TRPCA","v":0.135},{"b":44,"s":"TRPCA","v":0.136},{"b":45,"s":"TRPCA","v":0.138},{"b":46,"s":"TRPCA","v":0.140},{"b":47,"s":"TRPCA","v":0.143},{"b":48,"s":"TRPCA","v":0.138},{"b":49,"s":"TRPCA","v":0.136},{"b":50,"s":"TRPCA","v":0.136},
{"b":51,"s":"TRPCA","v":0.136},{"b":52,"s":"TRPCA","v":0.136},{"b":53,"s":"TRPCA","v":0.137},{"b":54,"s":"TRPCA","v":0.145},{"b":55,"s":"TRPCA","v":0.170},{"b":56,"s":"TRPCA","v":0.196},{"b":57,"s":"TRPCA","v":0.240},{"b":58,"s":"TRPCA","v":0.292},{"b":59,"s":"TRPCA","v":0.323},{"b":60,"s":"TRPCA","v":0.333},
{"b":61,"s":"TRPCA","v":0.336},{"b":62,"s":"TRPCA","v":0.364},{"b":63,"s":"TRPCA","v":0.358},{"b":64,"s":"TRPCA","v":0.360},{"b":65,"s":"TRPCA","v":0.366},{"b":66,"s":"TRPCA","v":0.378},{"b":67,"s":"TRPCA","v":0.384},{"b":68,"s":"TRPCA","v":0.386},{"b":69,"s":"TRPCA","v":0.391},{"b":70,"s":"TRPCA","v":0.391},
{"b":71,"s":"TRPCA","v":0.386},{"b":72,"s":"TRPCA","v":0.391},{"b":73,"s":"TRPCA","v":0.383},{"b":74,"s":"TRPCA","v":0.367},{"b":75,"s":"TRPCA","v":0.398},{"b":76,"s":"TRPCA","v":0.414},{"b":77,"s":"TRPCA","v":0.410},{"b":78,"s":"TRPCA","v":0.407},{"b":79,"s":"TRPCA","v":0.408},{"b":80,"s":"TRPCA","v":0.412},
{"b":81,"s":"TRPCA","v":0.414},{"b":82,"s":"TRPCA","v":0.417},{"b":83,"s":"TRPCA","v":0.420},{"b":84,"s":"TRPCA","v":0.423},{"b":85,"s":"TRPCA","v":0.425},{"b":86,"s":"TRPCA","v":0.416},{"b":87,"s":"TRPCA","v":0.381},{"b":88,"s":"TRPCA","v":0.418},{"b":89,"s":"TRPCA","v":0.439},{"b":90,"s":"TRPCA","v":0.433},
{"b":91,"s":"TRPCA","v":0.416},{"b":92,"s":"TRPCA","v":0.416},{"b":93,"s":"TRPCA","v":0.418},{"b":94,"s":"TRPCA","v":0.421},{"b":95,"s":"TRPCA","v":0.423},{"b":96,"s":"TRPCA","v":0.426},{"b":97,"s":"TRPCA","v":0.428},{"b":98,"s":"TRPCA","v":0.429},{"b":99,"s":"TRPCA","v":0.422},{"b":100,"s":"TRPCA","v":0.408},
{"b":101,"s":"TRPCA","v":0.388},{"b":102,"s":"TRPCA","v":0.366},{"b":103,"s":"TRPCA","v":0.343},{"b":104,"s":"TRPCA","v":0.378},{"b":105,"s":"TRPCA","v":0.200},{"b":106,"s":"TRPCA","v":0.300},{"b":107,"s":"TRPCA","v":0.422},{"b":108,"s":"TRPCA","v":0.419},{"b":109,"s":"TRPCA","v":0.338},{"b":110,"s":"TRPCA","v":0.258},
{"b":111,"s":"TRPCA","v":0.248},{"b":112,"s":"TRPCA","v":0.270},{"b":113,"s":"TRPCA","v":0.277},{"b":114,"s":"TRPCA","v":0.284},{"b":115,"s":"TRPCA","v":0.291},{"b":116,"s":"TRPCA","v":0.298},{"b":117,"s":"TRPCA","v":0.305},{"b":118,"s":"TRPCA","v":0.312},{"b":119,"s":"TRPCA","v":0.320},{"b":120,"s":"TRPCA","v":0.328},
{"b":121,"s":"TRPCA","v":0.337},{"b":122,"s":"TRPCA","v":0.345},{"b":123,"s":"TRPCA","v":0.352},{"b":124,"s":"TRPCA","v":0.357},{"b":125,"s":"TRPCA","v":0.359},{"b":126,"s":"TRPCA","v":0.356},{"b":127,"s":"TRPCA","v":0.352},{"b":128,"s":"TRPCA","v":0.349},{"b":129,"s":"TRPCA","v":0.346},{"b":130,"s":"TRPCA","v":0.343},
{"b":131,"s":"TRPCA","v":0.340},{"b":132,"s":"TRPCA","v":0.336},{"b":133,"s":"TRPCA","v":0.332},{"b":134,"s":"TRPCA","v":0.328},{"b":135,"s":"TRPCA","v":0.325},{"b":136,"s":"TRPCA","v":0.320},{"b":137,"s":"TRPCA","v":0.315},{"b":138,"s":"TRPCA","v":0.333},{"b":139,"s":"TRPCA","v":0.458},{"b":140,"s":"TRPCA","v":0.220},
{"b":141,"s":"TRPCA","v":0.425},{"b":142,"s":"TRPCA","v":0.298},{"b":143,"s":"TRPCA","v":0.363},{"b":144,"s":"TRPCA","v":0.210},{"b":145,"s":"TRPCA","v":0.338},{"b":146,"s":"TRPCA","v":0.486},{"b":147,"s":"TRPCA","v":0.278},{"b":148,"s":"TRPCA","v":0.062},{"b":149,"s":"TRPCA","v":0.388},{"b":150,"s":"TRPCA","v":0.718},
{"b":151,"s":"TRPCA","v":0.448},{"b":152,"s":"TRPCA","v":0.203},{"b":153,"s":"TRPCA","v":0.185},{"b":154,"s":"TRPCA","v":0.180},{"b":155,"s":"TRPCA","v":0.177},{"b":156,"s":"TRPCA","v":0.193},{"b":157,"s":"TRPCA","v":0.220},{"b":158,"s":"TRPCA","v":0.216},{"b":159,"s":"TRPCA","v":0.211},{"b":160,"s":"TRPCA","v":0.208},
{"b":161,"s":"TRPCA","v":0.210},{"b":162,"s":"TRPCA","v":0.215},{"b":163,"s":"TRPCA","v":0.222},{"b":164,"s":"TRPCA","v":0.224},{"b":165,"s":"TRPCA","v":0.226},{"b":166,"s":"TRPCA","v":0.230},{"b":167,"s":"TRPCA","v":0.236},{"b":168,"s":"TRPCA","v":0.242},{"b":169,"s":"TRPCA","v":0.243},{"b":170,"s":"TRPCA","v":0.237},
{"b":171,"s":"TRPCA","v":0.241},{"b":172,"s":"TRPCA","v":0.242},{"b":173,"s":"TRPCA","v":0.241},{"b":174,"s":"TRPCA","v":0.240},{"b":175,"s":"TRPCA","v":0.240},{"b":176,"s":"TRPCA","v":0.240},{"b":177,"s":"TRPCA","v":0.240},{"b":178,"s":"TRPCA","v":0.240},{"b":179,"s":"TRPCA","v":0.241},{"b":180,"s":"TRPCA","v":0.244},
{"b":181,"s":"TRPCA","v":0.251},{"b":182,"s":"TRPCA","v":0.247},{"b":183,"s":"TRPCA","v":0.233},{"b":184,"s":"TRPCA","v":0.220},{"b":185,"s":"TRPCA","v":0.214},{"b":186,"s":"TRPCA","v":0.208},{"b":187,"s":"TRPCA","v":0.201},{"b":188,"s":"TRPCA","v":0.195},{"b":189,"s":"TRPCA","v":0.191},{"b":190,"s":"TRPCA","v":0.188},
{"b":191,"s":"TRPCA","v":0.182},{"b":192,"s":"TRPCA","v":0.181},{"b":193,"s":"TRPCA","v":0.182},{"b":194,"s":"TRPCA","v":0.184},{"b":195,"s":"TRPCA","v":0.185},{"b":196,"s":"TRPCA","v":0.187},{"b":197,"s":"TRPCA","v":0.186},{"b":198,"s":"TRPCA","v":0.184},{"b":199,"s":"TRPCA","v":0.188},{"b":200,"s":"TRPCA","v":0.195},
{"b":201,"s":"TRPCA","v":0.177},{"b":202,"s":"TRPCA","v":0.153},{"b":203,"s":"TRPCA","v":0.188},{"b":204,"s":"TRPCA","v":0.233},{"b":205,"s":"TRPCA","v":0.168},{"b":206,"s":"TRPCA","v":0.116},{"b":207,"s":"TRPCA","v":0.400},{"b":208,"s":"TRPCA","v":0.387},{"b":209,"s":"TRPCA","v":0.347},{"b":210,"s":"TRPCA","v":0.297},
{"b":1,"s":"NCTRPCA","v":0.066},{"b":2,"s":"NCTRPCA","v":0.074},{"b":3,"s":"NCTRPCA","v":0.072},{"b":4,"s":"NCTRPCA","v":0.070},{"b":5,"s":"NCTRPCA","v":0.068},{"b":6,"s":"NCTRPCA","v":0.076},{"b":7,"s":"NCTRPCA","v":0.079},{"b":8,"s":"NCTRPCA","v":0.080},{"b":9,"s":"NCTRPCA","v":0.077},{"b":10,"s":"NCTRPCA","v":0.079},
{"b":11,"s":"NCTRPCA","v":0.085},{"b":12,"s":"NCTRPCA","v":0.085},{"b":13,"s":"NCTRPCA","v":0.084},{"b":14,"s":"NCTRPCA","v":0.085},{"b":15,"s":"NCTRPCA","v":0.088},{"b":16,"s":"NCTRPCA","v":0.088},{"b":17,"s":"NCTRPCA","v":0.089},{"b":18,"s":"NCTRPCA","v":0.090},{"b":19,"s":"NCTRPCA","v":0.090},{"b":20,"s":"NCTRPCA","v":0.091},
{"b":21,"s":"NCTRPCA","v":0.092},{"b":22,"s":"NCTRPCA","v":0.093},{"b":23,"s":"NCTRPCA","v":0.093},{"b":24,"s":"NCTRPCA","v":0.094},{"b":25,"s":"NCTRPCA","v":0.095},{"b":26,"s":"NCTRPCA","v":0.096},{"b":27,"s":"NCTRPCA","v":0.098},{"b":28,"s":"NCTRPCA","v":0.102},{"b":29,"s":"NCTRPCA","v":0.108},{"b":30,"s":"NCTRPCA","v":0.113},
{"b":31,"s":"NCTRPCA","v":0.120},{"b":32,"s":"NCTRPCA","v":0.126},{"b":33,"s":"NCTRPCA","v":0.129},{"b":34,"s":"NCTRPCA","v":0.131},{"b":35,"s":"NCTRPCA","v":0.133},{"b":36,"s":"NCTRPCA","v":0.134},{"b":37,"s":"NCTRPCA","v":0.133},{"b":38,"s":"NCTRPCA","v":0.132},{"b":39,"s":"NCTRPCA","v":0.133},{"b":40,"s":"NCTRPCA","v":0.134},
{"b":41,"s":"NCTRPCA","v":0.133},{"b":42,"s":"NCTRPCA","v":0.133},{"b":43,"s":"NCTRPCA","v":0.135},{"b":44,"s":"NCTRPCA","v":0.136},{"b":45,"s":"NCTRPCA","v":0.138},{"b":46,"s":"NCTRPCA","v":0.140},{"b":47,"s":"NCTRPCA","v":0.143},{"b":48,"s":"NCTRPCA","v":0.138},{"b":49,"s":"NCTRPCA","v":0.136},{"b":50,"s":"NCTRPCA","v":0.136},
{"b":51,"s":"NCTRPCA","v":0.136},{"b":52,"s":"NCTRPCA","v":0.136},{"b":53,"s":"NCTRPCA","v":0.137},{"b":54,"s":"NCTRPCA","v":0.145},{"b":55,"s":"NCTRPCA","v":0.170},{"b":56,"s":"NCTRPCA","v":0.196},{"b":57,"s":"NCTRPCA","v":0.240},{"b":58,"s":"NCTRPCA","v":0.292},{"b":59,"s":"NCTRPCA","v":0.325},{"b":60,"s":"NCTRPCA","v":0.334},
{"b":61,"s":"NCTRPCA","v":0.337},{"b":62,"s":"NCTRPCA","v":0.366},{"b":63,"s":"NCTRPCA","v":0.360},{"b":64,"s":"NCTRPCA","v":0.362},{"b":65,"s":"NCTRPCA","v":0.368},{"b":66,"s":"NCTRPCA","v":0.380},{"b":67,"s":"NCTRPCA","v":0.386},{"b":68,"s":"NCTRPCA","v":0.388},{"b":69,"s":"NCTRPCA","v":0.393},{"b":70,"s":"NCTRPCA","v":0.393},
{"b":71,"s":"NCTRPCA","v":0.388},{"b":72,"s":"NCTRPCA","v":0.393},{"b":73,"s":"NCTRPCA","v":0.385},{"b":74,"s":"NCTRPCA","v":0.368},{"b":75,"s":"NCTRPCA","v":0.400},{"b":76,"s":"NCTRPCA","v":0.416},{"b":77,"s":"NCTRPCA","v":0.412},{"b":78,"s":"NCTRPCA","v":0.409},{"b":79,"s":"NCTRPCA","v":0.410},{"b":80,"s":"NCTRPCA","v":0.414},
{"b":81,"s":"NCTRPCA","v":0.416},{"b":82,"s":"NCTRPCA","v":0.419},{"b":83,"s":"NCTRPCA","v":0.422},{"b":84,"s":"NCTRPCA","v":0.425},{"b":85,"s":"NCTRPCA","v":0.427},{"b":86,"s":"NCTRPCA","v":0.418},{"b":87,"s":"NCTRPCA","v":0.382},{"b":88,"s":"NCTRPCA","v":0.420},{"b":89,"s":"NCTRPCA","v":0.441},{"b":90,"s":"NCTRPCA","v":0.435},
{"b":91,"s":"NCTRPCA","v":0.418},{"b":92,"s":"NCTRPCA","v":0.418},{"b":93,"s":"NCTRPCA","v":0.420},{"b":94,"s":"NCTRPCA","v":0.423},{"b":95,"s":"NCTRPCA","v":0.425},{"b":96,"s":"NCTRPCA","v":0.428},{"b":97,"s":"NCTRPCA","v":0.430},{"b":98,"s":"NCTRPCA","v":0.431},{"b":99,"s":"NCTRPCA","v":0.424},{"b":100,"s":"NCTRPCA","v":0.410},
{"b":101,"s":"NCTRPCA","v":0.390},{"b":102,"s":"NCTRPCA","v":0.368},{"b":103,"s":"NCTRPCA","v":0.345},{"b":104,"s":"NCTRPCA","v":0.380},{"b":105,"s":"NCTRPCA","v":0.207},{"b":106,"s":"NCTRPCA","v":0.300},{"b":107,"s":"NCTRPCA","v":0.424},{"b":108,"s":"NCTRPCA","v":0.421},{"b":109,"s":"NCTRPCA","v":0.340},{"b":110,"s":"NCTRPCA","v":0.265},
{"b":111,"s":"NCTRPCA","v":0.252},{"b":112,"s":"NCTRPCA","v":0.278},{"b":113,"s":"NCTRPCA","v":0.284},{"b":114,"s":"NCTRPCA","v":0.290},{"b":115,"s":"NCTRPCA","v":0.297},{"b":116,"s":"NCTRPCA","v":0.303},{"b":117,"s":"NCTRPCA","v":0.309},{"b":118,"s":"NCTRPCA","v":0.316},{"b":119,"s":"NCTRPCA","v":0.323},{"b":120,"s":"NCTRPCA","v":0.331},
{"b":121,"s":"NCTRPCA","v":0.340},{"b":122,"s":"NCTRPCA","v":0.347},{"b":123,"s":"NCTRPCA","v":0.354},{"b":124,"s":"NCTRPCA","v":0.359},{"b":125,"s":"NCTRPCA","v":0.360},{"b":126,"s":"NCTRPCA","v":0.357},{"b":127,"s":"NCTRPCA","v":0.353},{"b":128,"s":"NCTRPCA","v":0.350},{"b":129,"s":"NCTRPCA","v":0.347},{"b":130,"s":"NCTRPCA","v":0.344},
{"b":131,"s":"NCTRPCA","v":0.341},{"b":132,"s":"NCTRPCA","v":0.337},{"b":133,"s":"NCTRPCA","v":0.333},{"b":134,"s":"NCTRPCA","v":0.329},{"b":135,"s":"NCTRPCA","v":0.326},{"b":136,"s":"NCTRPCA","v":0.321},{"b":137,"s":"NCTRPCA","v":0.316},{"b":138,"s":"NCTRPCA","v":0.335},{"b":139,"s":"NCTRPCA","v":0.461},{"b":140,"s":"NCTRPCA","v":0.260},
{"b":141,"s":"NCTRPCA","v":0.427},{"b":142,"s":"NCTRPCA","v":0.300},{"b":143,"s":"NCTRPCA","v":0.365},{"b":144,"s":"NCTRPCA","v":0.212},{"b":145,"s":"NCTRPCA","v":0.340},{"b":146,"s":"NCTRPCA","v":0.489},{"b":147,"s":"NCTRPCA","v":0.280},{"b":148,"s":"NCTRPCA","v":0.065},{"b":149,"s":"NCTRPCA","v":0.390},{"b":150,"s":"NCTRPCA","v":0.722},
{"b":151,"s":"NCTRPCA","v":0.450},{"b":152,"s":"NCTRPCA","v":0.205},{"b":153,"s":"NCTRPCA","v":0.188},{"b":154,"s":"NCTRPCA","v":0.182},{"b":155,"s":"NCTRPCA","v":0.179},{"b":156,"s":"NCTRPCA","v":0.195},{"b":157,"s":"NCTRPCA","v":0.222},{"b":158,"s":"NCTRPCA","v":0.218},{"b":159,"s":"NCTRPCA","v":0.213},{"b":160,"s":"NCTRPCA","v":0.210},
{"b":161,"s":"NCTRPCA","v":0.212},{"b":162,"s":"NCTRPCA","v":0.217},{"b":163,"s":"NCTRPCA","v":0.224},{"b":164,"s":"NCTRPCA","v":0.226},{"b":165,"s":"NCTRPCA","v":0.228},{"b":166,"s":"NCTRPCA","v":0.232},{"b":167,"s":"NCTRPCA","v":0.238},{"b":168,"s":"NCTRPCA","v":0.244},{"b":169,"s":"NCTRPCA","v":0.245},{"b":170,"s":"NCTRPCA","v":0.239},
{"b":171,"s":"NCTRPCA","v":0.243},{"b":172,"s":"NCTRPCA","v":0.244},{"b":173,"s":"NCTRPCA","v":0.243},{"b":174,"s":"NCTRPCA","v":0.242},{"b":175,"s":"NCTRPCA","v":0.242},{"b":176,"s":"NCTRPCA","v":0.242},{"b":177,"s":"NCTRPCA","v":0.242},{"b":178,"s":"NCTRPCA","v":0.242},{"b":179,"s":"NCTRPCA","v":0.243},{"b":180,"s":"NCTRPCA","v":0.246},
{"b":181,"s":"NCTRPCA","v":0.253},{"b":182,"s":"NCTRPCA","v":0.249},{"b":183,"s":"NCTRPCA","v":0.235},{"b":184,"s":"NCTRPCA","v":0.222},{"b":185,"s":"NCTRPCA","v":0.216},{"b":186,"s":"NCTRPCA","v":0.210},{"b":187,"s":"NCTRPCA","v":0.203},{"b":188,"s":"NCTRPCA","v":0.197},{"b":189,"s":"NCTRPCA","v":0.193},{"b":190,"s":"NCTRPCA","v":0.190},
{"b":191,"s":"NCTRPCA","v":0.184},{"b":192,"s":"NCTRPCA","v":0.183},{"b":193,"s":"NCTRPCA","v":0.184},{"b":194,"s":"NCTRPCA","v":0.186},{"b":195,"s":"NCTRPCA","v":0.187},{"b":196,"s":"NCTRPCA","v":0.189},{"b":197,"s":"NCTRPCA","v":0.188},{"b":198,"s":"NCTRPCA","v":0.186},{"b":199,"s":"NCTRPCA","v":0.190},{"b":200,"s":"NCTRPCA","v":0.197},
{"b":201,"s":"NCTRPCA","v":0.179},{"b":202,"s":"NCTRPCA","v":0.155},{"b":203,"s":"NCTRPCA","v":0.190},{"b":204,"s":"NCTRPCA","v":0.235},{"b":205,"s":"NCTRPCA","v":0.170},{"b":206,"s":"NCTRPCA","v":0.114},{"b":207,"s":"NCTRPCA","v":0.405},{"b":208,"s":"NCTRPCA","v":0.390},{"b":209,"s":"NCTRPCA","v":0.350},{"b":210,"s":"NCTRPCA","v":0.300}
]},
"data":{"name":"d"},
"layer":[
{"mark":{"type":"line","strokeWidth":1.8},
 "encoding":{
  "x":{"field":"b","type":"quantitative","scale":{"domain":[0,250],"nice":false,"zero":false},
   "axis":{"orient":"bottom","values":[0,50,100,150,200,250],"title":"Band Numbers","titleFontSize":30,"titleFontWeight":"normal","titleColor":"#3a3a3a","titleFont":"Liberation Sans","titlePadding":14,"labelFontSize":25,"labelColor":"#4a4a4a","labelFont":"Liberation Sans","labelPadding":30,"tickSize":-12,"tickColor":"#3a3a3a","domainColor":"#3a3a3a","domainWidth":1.5,"grid":false}},
  "y":{"field":"v","type":"quantitative","scale":{"domain":[0,0.8],"nice":false},
   "axis":{"orient":"left","values":[0,0.1,0.2,0.3,0.4,0.5,0.6,0.7,0.8],"format":"~g","title":"Reflectance","titleFontSize":30,"titleFontWeight":"normal","titleColor":"#3a3a3a","titleFont":"Liberation Sans","titlePadding":15,"labelFontSize":25,"labelColor":"#4a4a4a","labelFont":"Liberation Sans","labelPadding":26,"tickSize":-12,"tickColor":"#3a3a3a","domainColor":"#3a3a3a","domainWidth":1.5,"grid":false}},
  "color":{"field":"s","type":"nominal","scale":{"domain":["Original","IRNN","NRLRWTV","RPCA","TRPCA","NCTRPCA"],"range":["#111111","#f0283c","#1ed760","#f5a623","#9b4f9b","#111111"]},
   "legend":{"title":null,"orient":"none","legendX":1155,"legendY":27,"symbolType":"M-4,0H4","symbolSize":451,"symbolOffset":32,"symbolStrokeWidth":1.8,"labelFontSize":30,"labelFont":"Liberation Sans","labelColor":"#111111","labelOffset":29.5,"strokeColor":"#333333","fillColor":"white","padding":9,"rowPadding":11.2}},
  "strokeDash":{"field":"s","type":"nominal","scale":{"domain":["Original","IRNN","NRLRWTV","RPCA","TRPCA","NCTRPCA"],"range":[[1,0],[1,0],[12,6],[1,0],[1,0],[12,6]]},
   "legend":{"title":null,"orient":"none","legendX":1155,"legendY":27,"symbolType":"M-4,0H4","symbolSize":451,"symbolOffset":32,"symbolStrokeWidth":1.8,"labelFontSize":30,"labelFont":"Liberation Sans","labelColor":"#111111","labelOffset":29.5,"strokeColor":"#333333","fillColor":"white","padding":9,"rowPadding":11.2}}
 }},
{"mark":{"type":"line","opacity":0},
 "encoding":{
  "x":{"field":"b","type":"quantitative","scale":{"domain":[0,250],"nice":false,"zero":false},"axis":{"orient":"top","values":[0,50,100,150,200,250],"labels":false,"title":null,"tickSize":-12,"tickColor":"#3a3a3a","domainColor":"#3a3a3a","domainWidth":1.5,"grid":false}},
  "y":{"field":"v","type":"quantitative","scale":{"domain":[0,0.8],"nice":false},"axis":{"orient":"right","values":[0,0.1,0.2,0.3,0.4,0.5,0.6,0.7,0.8],"labels":false,"title":null,"tickSize":-12,"tickColor":"#3a3a3a","domainColor":"#3a3a3a","domainWidth":1.5,"grid":false}},
  "detail":{"field":"s","type":"nominal"}
 }}
],
"resolve":{"axis":{"x":"independent","y":"independent"}}
}
